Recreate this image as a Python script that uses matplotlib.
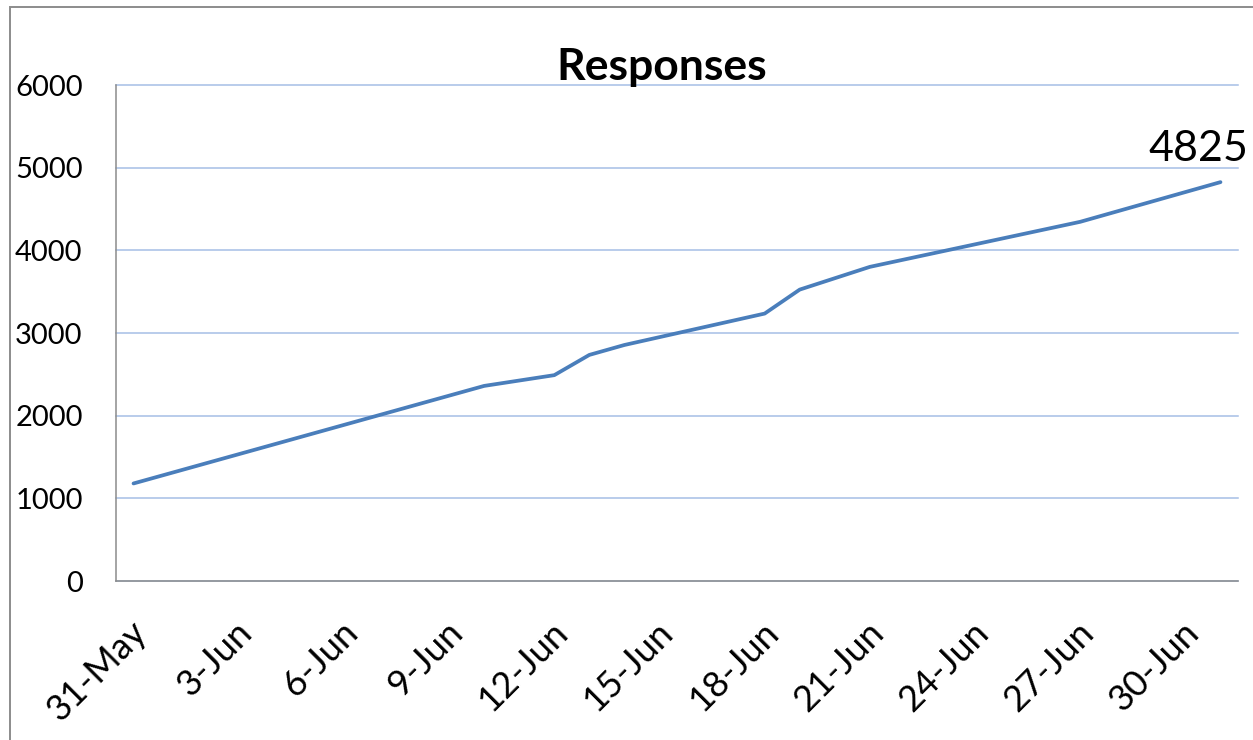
import numpy as np
import matplotlib
matplotlib.use("Agg")
import matplotlib.pyplot as plt
import matplotlib.transforms as mtransforms
from matplotlib.patches import Rectangle

plt.rcParams['font.family'] = ['Lato', 'DejaVu Sans']

# Cumulative survey responses
dates = np.array(['2020-05-31', '2020-06-10', '2020-06-12', '2020-06-13', '2020-06-14',
                  '2020-06-18', '2020-06-19', '2020-06-21', '2020-06-27', '2020-07-01'],
                 dtype='datetime64[D]')
responses = [1180, 2360, 2490, 2735, 2855, 3235, 3525, 3800, 4345, 4825]

tick_dates = np.arange(np.datetime64('2020-05-31'), np.datetime64('2020-07-01'), 3)
tick_labels = ['31-May', '3-Jun', '6-Jun', '9-Jun', '12-Jun', '15-Jun',
               '18-Jun', '21-Jun', '24-Jun', '27-Jun', '30-Jun']
y_ticks = [0, 1000, 2000, 3000, 4000, 5000, 6000]
title = 'Responses'

W, H = 1253, 740
fig = plt.figure(figsize=(W / 100, H / 100), dpi=100)
fig.patch.set_facecolor('white')

left, right, top, bottom = 116, 1238, 85, 581
ax = fig.add_axes([left / W, (H - bottom) / H, (right - left) / W, (bottom - top) / H])

ax.plot(dates, responses, color='#4A7EBB', lw=2.7, solid_capstyle='round',
        solid_joinstyle='round', zorder=3)

# one slot per day, points sit in the middle of their slot
ax.set_xlim(dates[0] - np.timedelta64(12, 'h'), dates[-1] + np.timedelta64(12, 'h'))
ax.set_ylim(0, 6000)

ax.set_yticks(y_ticks)
ax.set_yticklabels([str(v) for v in y_ticks], fontsize=21)
ax.set_xticks(tick_dates)
ax.set_xticklabels(tick_labels, rotation=45, ha='right', va='center',
                   rotation_mode='anchor', fontsize=26)

ax.tick_params(axis='both', length=0, colors='black')
ax.tick_params(axis='y', pad=24)
ax.tick_params(axis='x', pad=33)
shift = mtransforms.ScaledTranslation(8 / 100, 0, fig.dpi_scale_trans)
for lab in ax.get_xticklabels():
    lab.set_transform(lab.get_transform() + shift)

ax.yaxis.grid(True, color='#A6BEE5', lw=1.1)
ax.set_axisbelow(True)
for gl in ax.get_ygridlines():
    gl.set_clip_on(False)

for side in ('top', 'right'):
    ax.spines[side].set_visible(False)
for side in ('left', 'bottom'):
    ax.spines[side].set_color('#8C8C8C')
    ax.spines[side].set_linewidth(1.1)

ax.annotate(f'{responses[-1]}', xy=(dates[-1], responses[-1]), xytext=(-22, 21),
            textcoords='offset pixels', ha='center', va='baseline', fontsize=31,
            color='black', annotation_clip=False)

fig.text(662 / W, (H - 80) / H, title, ha='center', va='baseline',
         fontsize=32, fontweight='bold', color='black')

# outer chart frame
fig.add_artist(Rectangle((10 / W, -0.05), 1.2, 1.05 - 7 / H, transform=fig.transFigure,
                         fill=False, edgecolor='#8C8C8C', lw=1.4))

fig.savefig('out.png', dpi=100, facecolor='white')
